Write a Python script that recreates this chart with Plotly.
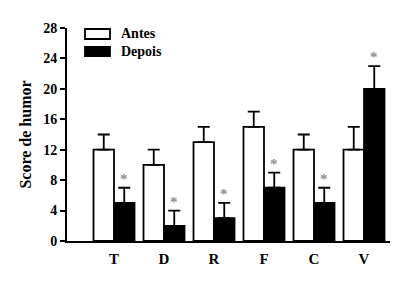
import plotly.graph_objects as go

categories = ["T", "D", "R", "F", "C", "V"]
antes = [12, 10, 13, 15, 12, 12]
antes_err = [2, 2, 2, 2, 2, 3]
depois = [5, 2, 3, 7, 5, 20]
depois_err = [2, 2, 2, 2, 2, 3]
y_ticks = [0, 4, 8, 12, 16, 20, 24, 28]
series_names = ["Antes", "Depois"]

font_fam = "Liberation Serif"

fig = go.Figure()
fig.add_trace(go.Bar(
    x=categories, y=antes, name=series_names[0],
    marker=dict(color="white", line=dict(color="black", width=1.8)),
    error_y=dict(type="data", array=antes_err, arrayminus=[0]*6, symmetric=False,
                 color="black", thickness=1.8, width=6),
))
fig.add_trace(go.Bar(
    x=categories, y=depois, name=series_names[1],
    marker=dict(color="black", line=dict(color="black", width=1.8)),
    error_y=dict(type="data", array=depois_err, arrayminus=[0]*6, symmetric=False,
                 color="black", thickness=1.8, width=6),
))

for i, c in enumerate(categories):
    fig.add_annotation(
        x=i, y=depois[i] + depois_err[i], xshift=10, yshift=9,
        text="*", showarrow=False,
        font=dict(family=font_fam, size=15, color="#909090", weight="bold"),
    )

# manual legend (paper coords)
W, H = 400, 284
ml, mr, mt, mb = 67, 10, 28, 43
pw, ph = W - ml - mr, H - mt - mb
def px2paper(x, y):
    return (x - ml) / pw, 1 - (y - mt) / ph

leg = [(29, 39, "white"), (47, 56, "black")]
for (y0, y1, col), name in zip(leg, series_names):
    x0p, y0p = px2paper(85, y1)
    x1p, y1p = px2paper(110, y0)
    fig.add_shape(type="rect", xref="paper", yref="paper", x0=x0p, x1=x1p, y0=y0p, y1=y1p,
                  fillcolor=col, line=dict(color="black", width=1.8))
    tx, ty = px2paper(119, (y0 + y1) / 2)
    fig.add_annotation(xref="paper", yref="paper", x=tx, y=ty, xanchor="left", yanchor="middle",
                       text=name, showarrow=False,
                       font=dict(family=font_fam, size=14, color="black", weight="bold"))

fig.update_layout(
    width=W, height=H,
    margin=dict(l=ml, r=mr, t=mt, b=mb),
    paper_bgcolor="white", plot_bgcolor="white",
    barmode="group", bargap=0.18, bargroupgap=0,
    showlegend=False,
    font=dict(family=font_fam, color="black"),
)
fig.update_xaxes(
    range=[-0.94, 5.52], showline=True, linecolor="black", linewidth=2,
    ticks="", ticklabelstandoff=3,
    tickfont=dict(family=font_fam, size=15, color="black", weight="bold"),
    showgrid=False, zeroline=False,
)
fig.update_yaxes(
    range=[0, 28], tickvals=y_ticks, showline=True, linecolor="black", linewidth=2,
    ticks="outside", ticklen=5, tickwidth=2, tickcolor="black",
    tickfont=dict(family=font_fam, size=14, color="black", weight="bold"),
    title=dict(text="Score de humor", font=dict(family=font_fam, size=16, color="black", weight="bold"), standoff=8),
    showgrid=False, zeroline=False,
)

fig.write_html("out.html", config={"displayModeBar": False},
               post_script="document.body.style.margin='0';document.body.style.padding='0';")
